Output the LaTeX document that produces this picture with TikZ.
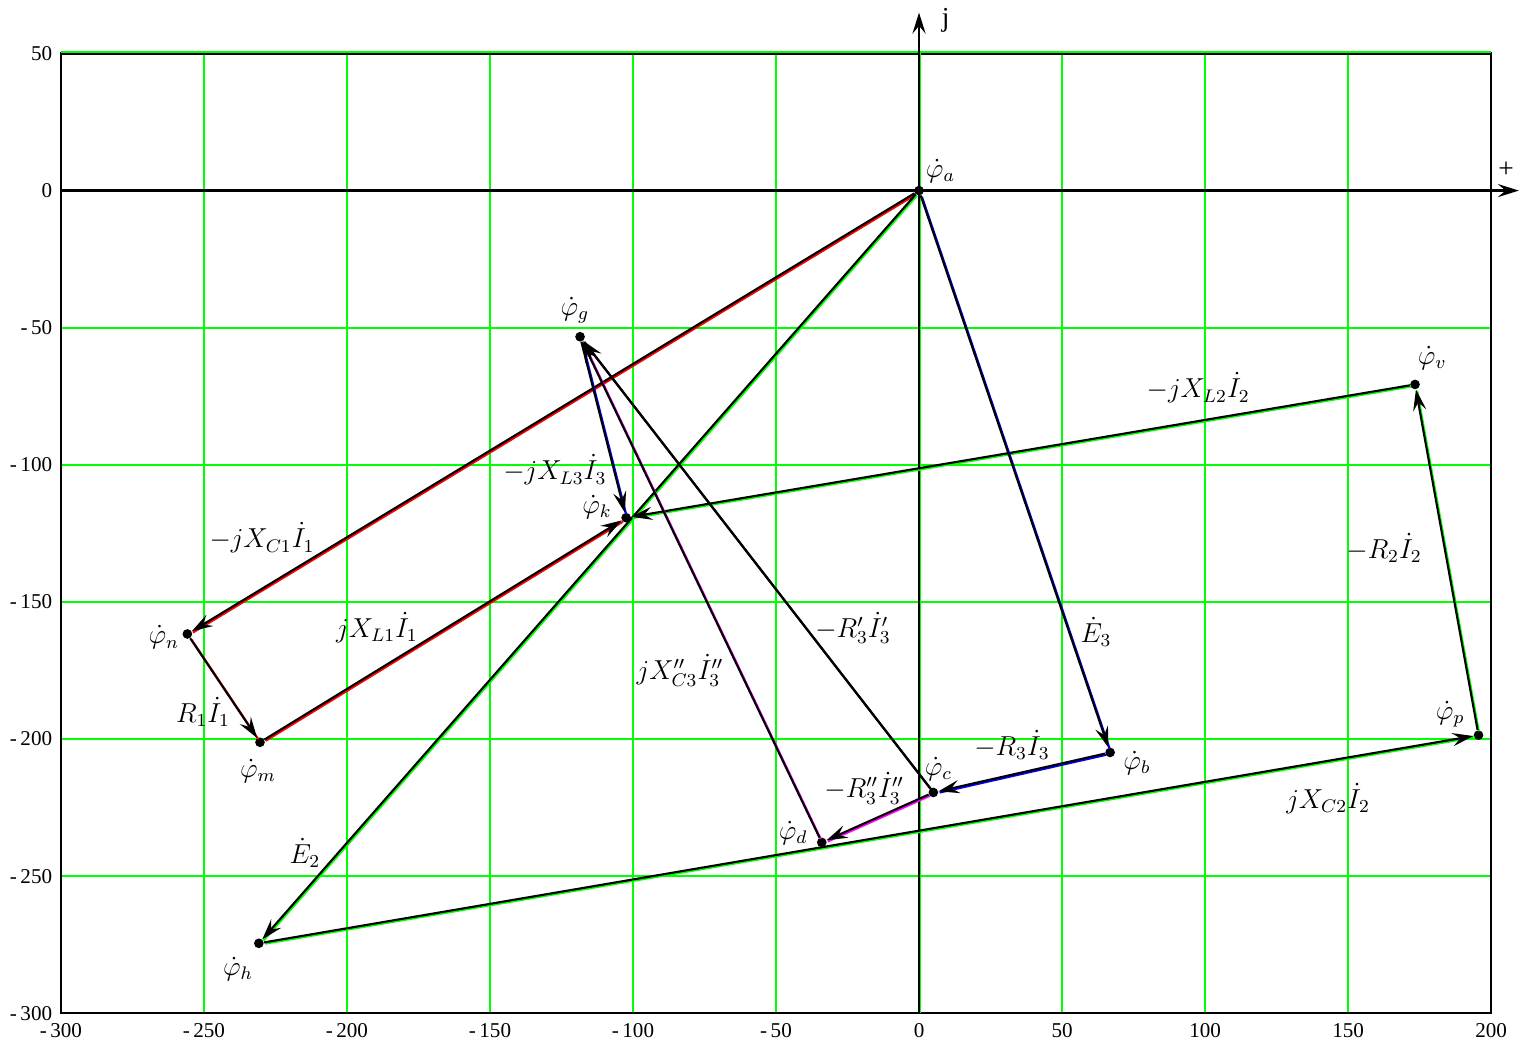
\documentclass[tikz,border=0pt]{standalone}
\usepackage{fontspec}
\setmainfont{Liberation Serif}
\usetikzlibrary{arrows.meta}

\definecolor{gridgreen}{RGB}{0,255,0}
\definecolor{vblue}{RGB}{0,0,255}
\definecolor{vred}{RGB}{255,0,0}
\definecolor{vmag}{RGB}{255,0,255}

\begin{document}
\begin{tikzpicture}[
    x=0.0572cm, y=0.05484cm,
    gridl/.style={draw=gridgreen, line width=1pt},
    frame/.style={draw=black, line width=1.2pt},
    axis/.style={draw=black, line width=1.3pt, -{Stealth[length=12pt,width=7.5pt,inset=4.5pt]}},
    vec/.style={draw=black, line width=1.2pt, -{Stealth[length=12pt,width=7.5pt,inset=4.5pt]}},
    under/.style={line width=1.2pt, transform canvas={shift={(0.7pt,-0.7pt)}}},
    pt/.style={circle, fill=black, inner sep=0pt, minimum size=5.5pt},
    lbl/.style={font=\fontsize{12}{14}\selectfont, inner sep=1pt, scale=1.3},
    ticklbl/.style={font=\fontsize{12}{14}\selectfont},
  ]
  \useasboundingbox (-321.3,-311.6) rectangle (213.6,69.5);
  \fill[white] (-321.3,-311.6) rectangle (213.6,69.5);

  % grid
  \foreach \x in {-250,-200,...,150}
    \draw[gridl] (\x,-300) -- (\x,50);
  \foreach \y in {-250,-200,...,0}
    \draw[gridl] (-300,\y) -- (200,\y);
  \draw[frame] (-300,-300) rectangle (200,50);
  \draw[gridl, transform canvas={shift={(0pt,0.8pt)}}] (-300,50) -- (200,50);
  \draw[gridl, transform canvas={shift={(0.9pt,0pt)}}] (0,-300) -- (0,50);

  % axes
  \coordinate (xbeg) at (-300,0);
  \coordinate (xend) at (209.7,0);
  \coordinate (ybeg) at (0,-300);
  \coordinate (yend) at (0,64.9);
  \draw[axis] (xbeg) -- (xend);
  \draw[axis] (ybeg) -- (yend);
  \node[lbl] (jlbl) at (9.3,62.0) {j};
  \node[lbl] (plbl) at (205.2,7.5) {+};

  % tick labels
  \foreach \v [count=\i] in {-300,-250,...,200} {
    \pgfmathtruncatemacro\a{abs(\v)}
    \node[ticklbl, anchor=north] (xt\i) at (\v,-301.5) {\ifnum\v<0 -\,\fi\a};
  }
  \foreach \v [count=\i] in {-300,-250,...,50} {
    \pgfmathtruncatemacro\a{abs(\v)}
    \node[ticklbl, anchor=east] (yt\i) at (-300.9,\v) {\ifnum\v<0 -\,\fi\a};
  }

  % potentials
  \node[pt] (a) at (0,0) {};
  \node[pt] (g) at (-118.5,-53.3) {};
  \node[pt] (k) at (-102.4,-119.3) {};
  \node[pt] (n) at (-255.8,-161.7) {};
  \node[pt] (m) at (-230.4,-201.2) {};
  \node[pt] (c) at (5.0,-219.5) {};
  \node[pt] (b) at (66.8,-204.9) {};
  \node[pt] (d) at (-34.0,-237.7) {};
  \node[pt] (v) at (173.4,-70.7) {};
  \node[pt] (p) at (195.6,-198.6) {};
  \node[pt] (h) at (-230.8,-274.5) {};

  % vectors
  \foreach \s/\e/\c in {a/n/vred, n/m/vred, m/k/vred,
      a/h/gridgreen, h/p/gridgreen, p/v/gridgreen, v/k/gridgreen,
      a/b/vblue, b/c/vblue, g/k/vblue, c/d/vmag, d/g/vmag, c/g/black} {
    \draw[under, \c] (\s) -- (\e);
    \draw[vec] (\s) -- (\e);
  }

  % point labels
  \node[lbl] (la) at (7.5,7.0) {$\dot\varphi_a$};
  \node[lbl] (lg) at (-120.3,-43.5) {$\dot\varphi_g$};
  \node[lbl] (lk) at (-112.6,-115.4) {$\dot\varphi_k$};
  \node[lbl] (lv) at (179.4,-61.0) {$\dot\varphi_v$};
  \node[lbl] (lp) at (185.7,-191.0) {$\dot\varphi_p$};
  \node[lbl] (lb) at (76.2,-208.6) {$\dot\varphi_b$};
  \node[lbl] (lc) at (6.8,-211.0) {$\dot\varphi_c$};
  \node[lbl] (ld) at (-44.0,-234.2) {$\dot\varphi_d$};
  \node[lbl] (lh) at (-238.1,-283.8) {$\dot\varphi_h$};
  \node[lbl] (lm) at (-231.1,-211.6) {$\dot\varphi_m$};
  \node[lbl] (ln) at (-264.0,-163.0) {$\dot\varphi_n$};

  % vector labels
  \node[lbl] (lan) at (-229.7,-126.7) {$-jX_{C1}\dot I_1$};
  \node[lbl] (lnm) at (-250.3,-190.2) {$R_1\dot I_1$};
  \node[lbl] (lmk) at (-189.5,-159.5) {$jX_{L1}\dot I_1$};
  \node[lbl] (lah) at (-214.7,-241.6) {$\dot E_2$};
  \node[lbl] (lgk) at (-127.3,-101.9) {$-jX_{L3}\dot I_3$};
  \node[lbl] (ldg) at (-83.6,-174.9) {$jX_{C3}''\dot I_3''$};
  \node[lbl] (lcg) at (-23.1,-159.5) {$-R_3'\dot I_3'$};
  \node[lbl] (lab) at (61.9,-161.0) {$\dot E_3$};
  \node[lbl] (lbc) at (32.5,-202.2) {$-R_3\dot I_3$};
  \node[lbl] (lcd) at (-19.2,-217.9) {$-R_3''\dot I_3''$};
  \node[lbl] (lvk) at (97.6,-72.0) {$-jX_{L2}\dot I_2$};
  \node[lbl] (lpv) at (162.6,-130.4) {$-R_2\dot I_2$};
  \node[lbl] (lhp) at (143.0,-221.6) {$jX_{C2}\dot I_2$};
\end{tikzpicture}
\end{document}
